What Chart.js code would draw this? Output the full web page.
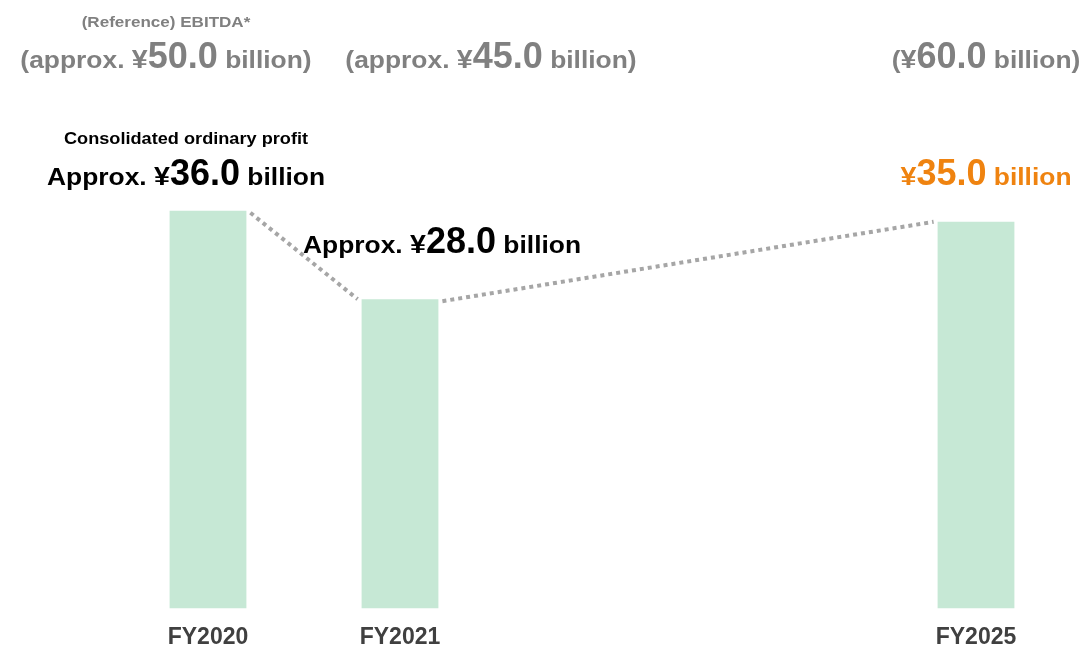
<!DOCTYPE html>
<html>
<head>
<meta charset="utf-8">
<script src="https://cdn.jsdelivr.net/npm/chart.js@4"></script>
<style>
html,body{margin:0;padding:0;background:#fff;}
#wrap{width:1084px;height:650px;position:relative;}
</style>
</head>
<body>
<div id="wrap"><canvas id="c" width="1084" height="650"></canvas></div>
<script>
// ---- data ----
const categories = ['FY2020', 'FY2021', '', '', 'FY2025'];
const ordinaryProfit = [36.0, 28.0, null, null, 35.0];
const ebitda = [50.0, 45.0, null, null, 60.0];
const approxFlags = [true, true, false, false, false];
const ebitdaTitle = '(Reference) EBITDA*';
const profitTitle = 'Consolidated ordinary profit';

const FONT = '"Liberation Sans", Arial, sans-serif';
const SX = 1.1;
const GRAY = '#808080';
const ORANGE = '#EF8310';
const BLACK = '#000000';

// each segment: text, font size, horizontal stretch
function drawSegs(ctx, segs, cx, baseline, color) {
  let w = 0;
  segs.forEach(s => {
    s.sx = s.sx || SX;
    ctx.font = 'bold ' + s.size + 'px ' + FONT;
    s.w = ctx.measureText(s.text).width;
    w += s.w * s.sx;
  });
  let x = cx - w / 2;
  ctx.save();
  ctx.fillStyle = color;
  ctx.textBaseline = 'alphabetic';
  ctx.textAlign = 'left';
  segs.forEach(s => {
    ctx.save();
    ctx.translate(x, baseline);
    ctx.scale(s.sx, 1);
    ctx.font = 'bold ' + s.size + 'px ' + FONT;
    ctx.fillText(s.text, 0, 0);
    ctx.restore();
    x += s.w * s.sx;
  });
  ctx.restore();
}

// label anchor offsets relative to each bar's centre (layout only)
const ebitdaDx = [-42, 91, 0, 0, 10];
const profitDx = [-22, 42, 0, 0, 10];
const profitBaseline = [185, 253, 0, 0, 185];

const overlay = {
  id: 'overlay',
  afterDatasetsDraw(chart) {
    const ctx = chart.ctx;
    const bars = chart.getDatasetMeta(0).data;
    const idx = [];
    ordinaryProfit.forEach((v, i) => { if (v !== null) idx.push(i); });
    // dotted connectors between bar tops
    ctx.save();
    ctx.strokeStyle = '#A6A6A6';
    ctx.lineWidth = 4;
    ctx.setLineDash([4, 4]);
    for (let k = 0; k < idx.length - 1; k++) {
      const a = bars[idx[k]], b = bars[idx[k + 1]];
      ctx.beginPath();
      ctx.moveTo(a.x + a.width / 2 + 4, a.y + 2);
      ctx.lineTo(b.x - b.width / 2 - 4, b.y);
      ctx.stroke();
    }
    ctx.restore();

    const first = bars[idx[0]];
    drawSegs(ctx, [{text: ebitdaTitle, size: 15.5}], first.x - 42, 27, GRAY);
    drawSegs(ctx, [{text: profitTitle, size: 16.5}], first.x - 22, 144, BLACK);

    idx.forEach(i => {
      const bar = bars[i];
      const last = i === idx[idx.length - 1];
      const e = ebitda[i].toFixed(1);
      const p = ordinaryProfit[i].toFixed(1);
      const eSegs = approxFlags[i]
        ? [{text: '(approx. ', size: 24}, {text: '¥', size: 26}, {text: e, size: 36, sx: 1.0}, {text: ' billion)', size: 24}]
        : [{text: '(', size: 24}, {text: '¥', size: 26}, {text: e, size: 36, sx: 1.0}, {text: ' billion)', size: 24}];
      drawSegs(ctx, eSegs, bar.x + ebitdaDx[i], 68, GRAY);
      const pSegs = approxFlags[i]
        ? [{text: 'Approx. ', size: 24}, {text: '¥', size: 26}, {text: p, size: 36, sx: 1.0}, {text: ' billion', size: 24}]
        : [{text: '¥', size: 26}, {text: p, size: 36, sx: 1.0}, {text: ' billion', size: 24}];
      drawSegs(ctx, pSegs, bar.x + profitDx[i], profitBaseline[i], last ? ORANGE : BLACK);
    });
  }
};

new Chart(document.getElementById('c'), {
  type: 'bar',
  data: {
    labels: categories,
    datasets: [{
      data: ordinaryProfit,
      backgroundColor: '#C6E8D5',
      borderWidth: 0,
      categoryPercentage: 1.0,
      barPercentage: 0.4
    }]
  },
  options: {
    responsive: false,
    animation: false,
    devicePixelRatio: 1,
    layout: { padding: { left: 112, right: 12, top: 12, bottom: -16 } },
    plugins: { legend: { display: false }, tooltip: { enabled: false } },
    scales: {
      x: {
        grid: { display: false, drawTicks: false },
        border: { display: false },
        ticks: { color: '#404040', padding: 15, font: { family: FONT, size: 23, weight: 'bold' } }
      },
      y: { display: false, min: 0, max: 54 }
    }
  },
  plugins: [overlay]
});
</script>
</body>
</html>
